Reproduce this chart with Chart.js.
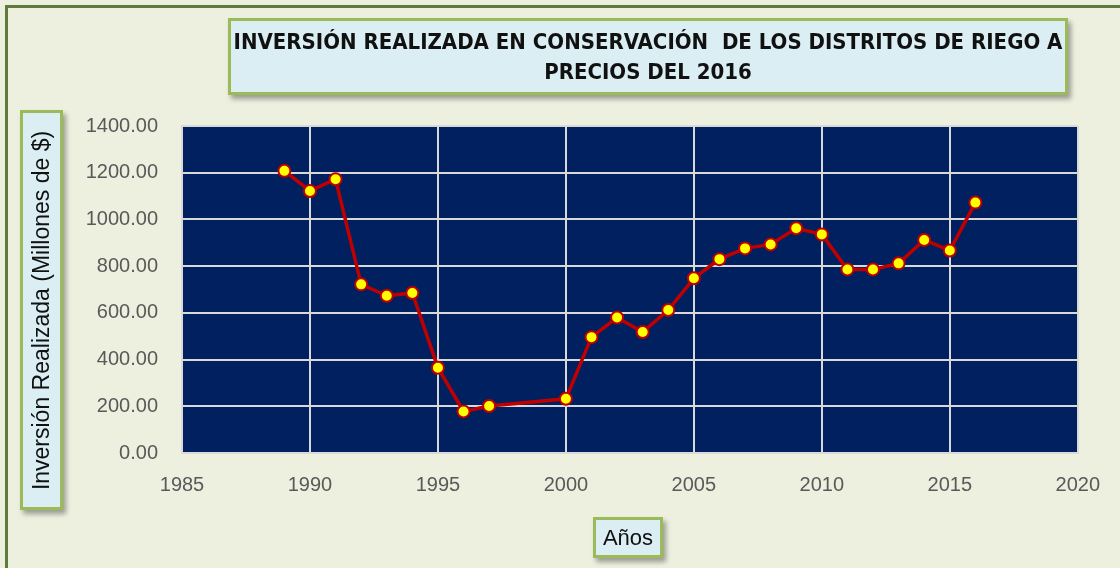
<!DOCTYPE html>
<html>
<head>
<meta charset="utf-8">
<script src="https://cdn.jsdelivr.net/npm/chart.js@4.4.1/dist/chart.umd.min.js"></script>
<style>
  body { margin: 0; background: #edefdf; }
  #wrap { position: relative; width: 1120px; height: 568px; overflow: hidden; background: #edefdf; }
  #frame { position: absolute; left: 5px; top: 5px; width: 1200px; height: 700px; border: 3px solid #5e7b3c; box-sizing: border-box; }
  canvas { position: absolute; left: 0; top: 0; }
  .box { position: absolute; background: #daeef3; border: 3px solid #9bbb59; box-sizing: border-box;
         box-shadow: 3px 4px 5px rgba(0,0,0,0.35); color: #111; display: flex; align-items: center; justify-content: center; text-align: center; }
  #title { left: 228px; top: 18px; width: 840px; height: 77px; font: bold 22px "Liberation Sans Narrow", "DejaVu Sans Condensed", sans-serif; line-height: 30px; }
  #ytitle { left: 20px; top: 110px; width: 43px; height: 400px; }
  #ytitle span { transform: rotate(-90deg); white-space: nowrap; font: 23px "Liberation Sans", sans-serif; }
  #xtitle { left: 593px; top: 517px; width: 70px; height: 41px; font: 22px "Liberation Sans", sans-serif; }
</style>
</head>
<body>
<div id="wrap">
  <div id="frame"></div>
  <canvas id="chart" width="1120" height="568"></canvas>
  <div class="box" id="title">INVERSIÓN REALIZADA EN CONSERVACIÓN &nbsp;DE LOS DISTRITOS DE RIEGO A<br>PRECIOS DEL 2016</div>
  <div class="box" id="ytitle"><span>Inversión Realizada (Millones de $)</span></div>
  <div class="box" id="xtitle">Años</div>
</div>
<script>
const years = [1989, 1990, 1991, 1992, 1993, 1994, 1995, 1996, 1997, 2000, 2001, 2002, 2003, 2004,
               2005, 2006, 2007, 2008, 2009, 2010, 2011, 2012, 2013, 2014, 2015, 2016];
const investment = [1208, 1122, 1172, 722, 673, 685, 365, 178, 201, 232, 496, 580, 518, 612,
                    748, 830, 876, 893, 962, 936, 786, 786, 812, 912, 867, 1072];
const xTicks = [1985, 1990, 1995, 2000, 2005, 2010, 2015, 2020];
const yTicks = [0, 200, 400, 600, 800, 1000, 1200, 1400];

const plotBg = {
    id: 'plotBg',
    beforeDraw(chart) {
        const a = chart.chartArea;
        const ctx = chart.ctx;
        ctx.save();
        ctx.fillStyle = '#00205f';
        ctx.fillRect(a.left, a.top, a.right - a.left, a.bottom - a.top);
        ctx.restore();
    }
};

new Chart(document.getElementById('chart'), {
    type: 'line',
    data: {
        datasets: [{
            data: years.map((y, i) => ({ x: y, y: investment[i] })),
            borderColor: '#c00000',
            borderWidth: 3.5,
            pointBackgroundColor: '#ffff00',
            pointBorderColor: '#c00000',
            pointBorderWidth: 2,
            pointRadius: 6,
            tension: 0
        }]
    },
    options: {
        responsive: false,
        animation: false,
        layout: { padding: { left: 70, right: 42, top: 126, bottom: 75 } },
        plugins: { legend: { display: false }, tooltip: { enabled: false } },
        scales: {
            x: {
                type: 'linear',
                min: xTicks[0],
                max: xTicks[xTicks.length - 1],
                afterBuildTicks: (s) => { s.ticks = xTicks.map(v => ({ value: v })); },
                afterFit: (s) => { s.height = 40; },
                grid: { color: '#d9d9d9', lineWidth: 2, drawTicks: false },
                border: { color: '#d9d9d9', width: 2 },
                ticks: { color: '#595959', padding: 20, font: { family: 'Liberation Sans', size: 20 }, callback: v => String(v) }
            },
            y: {
                min: yTicks[0],
                max: yTicks[yTicks.length - 1],
                afterBuildTicks: (s) => { s.ticks = yTicks.map(v => ({ value: v })); },
                afterFit: (s) => { s.width = 112; },
                grid: { color: '#d9d9d9', lineWidth: 2, drawTicks: false },
                border: { color: '#d9d9d9', width: 2 },
                ticks: { color: '#595959', padding: 24, font: { family: 'Liberation Sans', size: 20 }, callback: v => v.toFixed(2) }
            }
        }
    },
    plugins: [plotBg]
});
</script>
</body>
</html>
